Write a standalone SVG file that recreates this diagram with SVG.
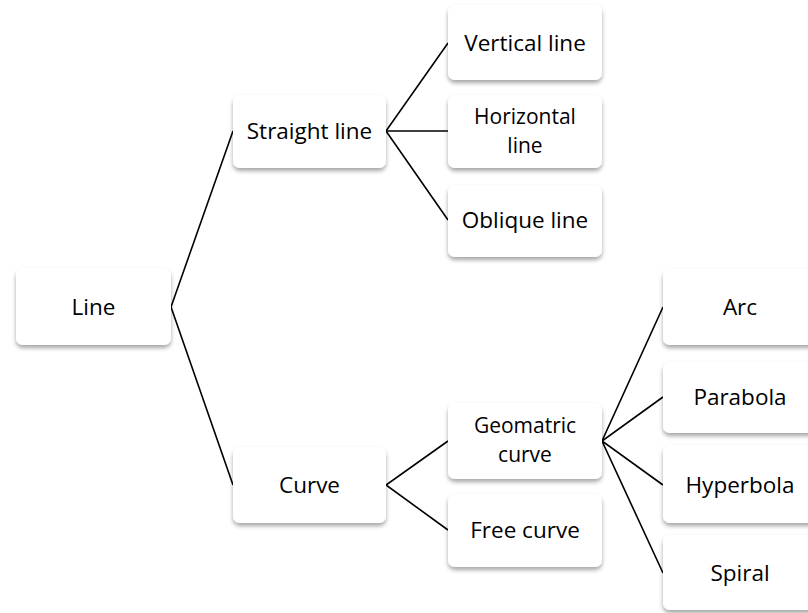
<svg xmlns="http://www.w3.org/2000/svg" width="808" height="613" viewBox="0 0 808 613">
<defs>
<filter id="sh" x="-10%" y="-10%" width="120%" height="130%">
<feDropShadow dx="0" dy="3" stdDeviation="2" flood-color="#000" flood-opacity="0.35"/>
</filter>
<style>
.box{fill:#fff;filter:url(#sh);}
.t{font-family:"Open Sans","Liberation Sans",sans-serif;font-size:22.5px;font-weight:500;fill:#000;text-anchor:middle;}
.t2{font-size:21px;}
.c{stroke:#000;stroke-width:1.6;fill:none;}
</style>
</defs>
<rect width="808" height="613" fill="#fff"/>
<g id="connectors">
<polyline class="c" points="233,131 171,307 233,485"/>
<polyline class="c" points="448,43 386,131 448,220"/>
<line class="c" x1="386" y1="131" x2="448" y2="131"/>
<polyline class="c" points="448,441 386,485 448,530"/>
<polyline class="c" points="663,307 602,441 663,573"/>
<polyline class="c" points="663,397 602,441 663,485"/>
</g>
<g id="n-line"><rect class="box" x="16" y="268" width="155" height="77" rx="7"/><text class="t" x="93.5" y="315">Line</text></g>
<g id="n-straight"><rect class="box" x="233" y="95" width="153" height="73" rx="7"/><text class="t" x="309.5" y="139">Straight line</text></g>
<g id="n-curve"><rect class="box" x="233" y="447" width="153" height="76" rx="7"/><text class="t" x="309.5" y="493">Curve</text></g>
<g id="n-vertical"><rect class="box" x="448" y="5" width="154" height="75" rx="7"/><text class="t" x="525" y="51">Vertical line</text></g>
<g id="n-horizontal"><rect class="box" x="448" y="95" width="154" height="73" rx="7"/><text class="t t2" x="525" y="124">Horizontal</text><text class="t t2" x="525" y="153">line</text></g>
<g id="n-oblique"><rect class="box" x="448" y="185" width="154" height="72" rx="7"/><text class="t" x="525" y="228">Oblique line</text></g>
<g id="n-geomatric"><rect class="box" x="448" y="403" width="154" height="76" rx="7"/><text class="t t2" x="525" y="433">Geomatric</text><text class="t t2" x="525" y="462">curve</text></g>
<g id="n-free"><rect class="box" x="448" y="494" width="154" height="73" rx="7"/><text class="t" x="525" y="538">Free curve</text></g>
<g id="n-arc"><rect class="box" x="663" y="269" width="154" height="76" rx="7"/><text class="t" x="740" y="315">Arc</text></g>
<g id="n-parabola"><rect class="box" x="663" y="362" width="154" height="71" rx="7"/><text class="t" x="740" y="405">Parabola</text></g>
<g id="n-hyperbola"><rect class="box" x="663" y="445" width="154" height="78" rx="7"/><text class="t" x="740" y="493">Hyperbola</text></g>
<g id="n-spiral"><rect class="box" x="663" y="535" width="154" height="75" rx="7"/><text class="t" x="740" y="581">Spiral</text></g>
</svg>
